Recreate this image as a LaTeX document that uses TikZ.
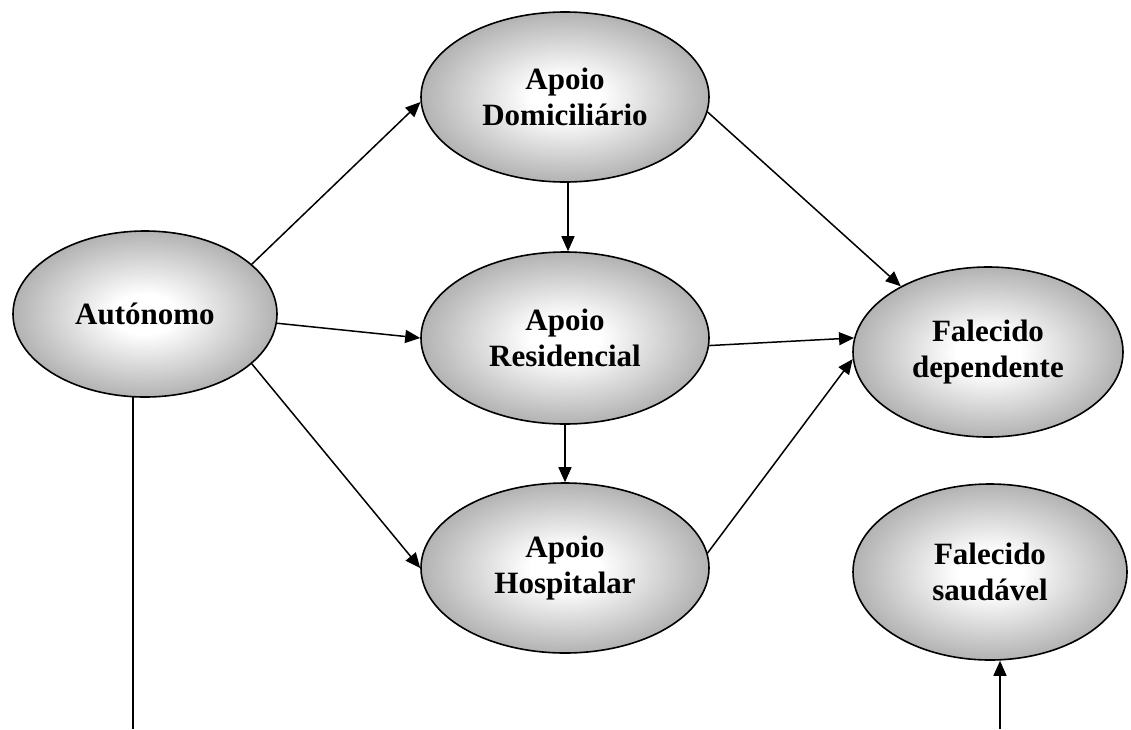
\documentclass[tikz,border=0pt]{standalone}
\usepackage{fontspec}
\setmainfont{Liberation Serif}
\usetikzlibrary{shapes.geometric,arrows.meta}
\pgfdeclareradialshading{myrad}{\pgfpoint{0bp}{0bp}}{color(0bp)=(white); color(6bp)=(white); color(25bp)=(black!30); color(50bp)=(black!30)}
\tikzset{
  state/.style={ellipse, draw=black, line width=1.6pt, shading=myrad, inner sep=0pt,
    align=center, font=\fontsize{31}{36}\selectfont\bfseries},
  conn/.style={line width=1.5pt, -{Triangle[length=15pt,width=13pt]}},
  plain/.style={line width=1.6pt}
}
\begin{document}
\begin{tikzpicture}[x=1pt,y=-1pt]
\useasboundingbox (0,0) rectangle (1131,729);
\node[state, minimum width=264pt, minimum height=166pt] (aut) at (145,314) {Autónomo};
\node[state, minimum width=288pt, minimum height=170pt] (dom) at (565,97) {Apoio\\Domiciliário};
\node[state, minimum width=288pt, minimum height=172pt] (res) at (565,338) {Apoio\\Residencial};
\node[state, minimum width=288pt, minimum height=170pt] (hos) at (565,568) {Apoio\\Hospitalar};
\node[state, minimum width=270pt, minimum height=170pt] (fdep) at (988,352) {Falecido\\dependente};
\node[state, minimum width=274pt, minimum height=176pt] (fsau) at (990,572) {Falecido\\saudável};
\coordinate (bot1) at (133,729);
\coordinate (bot2) at (1000,729);
\draw[conn] (aut.25) -- (dom.182);
\draw[conn] (aut.-4) -- (res.180);
\draw[conn] (aut.-25) -- (hos.west);
\draw[conn] (dom.south -| 568,0) -- (res.north -| 568,0);
\draw[conn] (res.south) -- (hos.north);
\draw[conn] (dom.-6) -- (fdep.143);
\draw[conn] (res.-3) -- (fdep.174);
\draw[conn] (hos.6) -- (fdep.183);
\draw[plain] (aut.-98) -- (aut.-98 |- bot1);
\draw[conn] (bot2) -- (bot2 |- fsau.south);
\end{tikzpicture}
\end{document}
